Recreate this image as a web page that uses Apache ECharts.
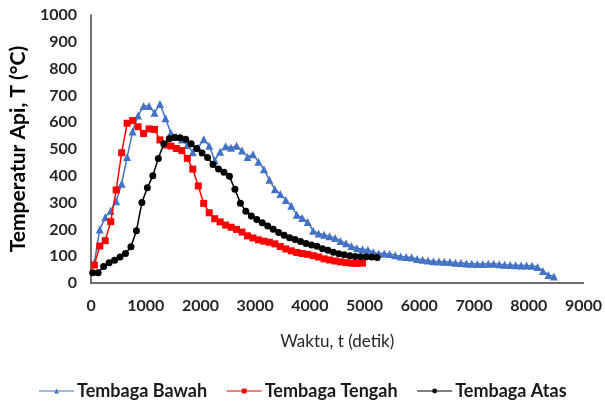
<!DOCTYPE html>
<html>
<head>
<meta charset="utf-8">
<script src="https://cdn.jsdelivr.net/npm/echarts@6/dist/echarts.min.js"></script>
<style>
html,body{margin:0;padding:0;background:#fff;}
#chart{width:605px;height:402px;}
</style>
</head>
<body>
<div id="chart"></div>
<script>
// Time (s) and temperature (°C)
const timeBawah = [60,160,260,360,460,560,660,760,860,960,1060,1160,1260,1360,1460,1560,1660,1760,1860,1960,2060,2160,2260,2360,2460,2560,2660,2760,2860,2960,3060,3160,3260,3360,3460,3560,3660,3760,3860,3960,4060,4160,4260,4360,4460,4560,4660,4760,4860,4960,5060,5160,5260,5360,5460,5560,5660,5760,5860,5960,6060,6160,6260,6360,6460,6560,6660,6760,6860,6960,7060,7160,7260,7360,7460,7560,7660,7760,7860,7960,8060,8160,8260,8360,8460];
const tempBawah = [76,200,245,270,305,370,470,565,625,660,660,635,668,615,560,545,535,515,488,505,536,512,458,490,510,505,512,494,470,480,452,424,385,350,332,310,288,255,243,228,195,185,180,174,168,157,148,138,130,126,124,115,110,110,108,104,99,97,95,90,87,84,81,80,79,78,76,75,73,72,71,71,72,72,70,68,67,66,65,65,64,60,45,30,24];

const timeTengah = [60,160,260,360,460,560,660,760,860,960,1060,1160,1260,1360,1460,1560,1660,1760,1860,1960,2060,2160,2260,2360,2460,2560,2660,2760,2860,2960,3060,3160,3260,3360,3460,3560,3660,3760,3860,3960,4060,4160,4260,4360,4460,4560,4660,4760,4860,4960];
const tempTengah = [67,138,158,229,347,486,596,606,583,558,575,573,534,515,511,502,494,465,425,362,297,262,240,228,216,208,200,190,176,168,161,156,152,146,136,127,120,114,110,107,102,97,90,86,82,79,76,74,73,74];

const timeAtas = [30,130,230,330,430,530,630,730,830,930,1030,1130,1230,1330,1430,1530,1630,1730,1830,1930,2030,2130,2230,2330,2430,2530,2630,2730,2830,2930,3030,3130,3230,3330,3430,3530,3630,3730,3830,3930,4030,4130,4230,4330,4430,4530,4630,4730,4830,4930,5030,5130,5230];
const tempAtas = [38,38,62,76,85,97,110,135,195,300,355,400,465,520,538,543,542,536,520,502,485,468,442,425,413,398,350,298,268,250,237,225,213,201,188,178,169,162,155,147,142,137,128,122,115,109,105,102,99,98,98,97,95];

const seriesNames = ['Tembaga Bawah','Tembaga Tengah','Tembaga Atas'];
const xTicks = {min:0, max:9000, interval:1000};
const yTicks = {min:0, max:1000, interval:100};

function pairs(t, v){ return t.map((x,i)=>[x, v[i]]); }

const chart = echarts.init(document.getElementById('chart'), null, {renderer:'canvas'});
const font = 'Lato, "Open Sans", sans-serif';
chart.setOption({
  animation:false,
  backgroundColor:'#fff',
  grid:{left:89, right:18, top:15, bottom:119, containLabel:false},
  legend:{
    top:377, left:'center',
    itemWidth:35, itemHeight:6, itemGap:19,
    lineStyle:{width:1.2},
    textStyle:{fontFamily:font, fontSize:18, fontWeight:'bold', color:'#1a1a1a', padding:[0,0,0,-2]},
    data:seriesNames
  },
  xAxis:{
    type:'value', min:xTicks.min, max:xTicks.max, interval:xTicks.interval,
    name:'Waktu, t (detik)', nameLocation:'middle', nameGap:50,
    nameTextStyle:{fontFamily:font, fontSize:17, color:'#262626'},
    axisLine:{show:true, lineStyle:{color:'#404040', width:1.5}},
    axisTick:{show:false},
    splitLine:{show:false},
    axisLabel:{fontFamily:font, fontSize:16, fontWeight:'bold', color:'#262626', margin:15,
      formatter:function(v){return String(v);}}
  },
  yAxis:{
    type:'value', min:yTicks.min, max:yTicks.max, interval:yTicks.interval,
    name:'Temperatur Api, T (°C)', nameLocation:'middle', nameGap:56,
    nameTextStyle:{fontFamily:font, fontSize:21, fontWeight:'bold', color:'#000'},
    axisLine:{show:true, lineStyle:{color:'#404040', width:1.5}},
    axisTick:{show:false},
    splitLine:{show:false},
    axisLabel:{fontFamily:font, fontSize:16, fontWeight:'bold', color:'#262626', margin:14,
      formatter:function(v){return String(v);}}
  },
  series:[
    {name:seriesNames[0], type:'line', data:pairs(timeBawah,tempBawah),
     symbol:'triangle', symbolSize:8, itemStyle:{color:'#4472C4'}, lineStyle:{color:'#4472C4', width:1.5}, z:2},
    {name:seriesNames[1], type:'line', data:pairs(timeTengah,tempTengah),
     symbol:'rect', symbolSize:7, itemStyle:{color:'#FF0000'}, lineStyle:{color:'#FF0000', width:1.5}, z:3},
    {name:seriesNames[2], type:'line', data:pairs(timeAtas,tempAtas),
     symbol:'circle', symbolSize:7, itemStyle:{color:'#000000'}, lineStyle:{color:'#000000', width:1.5}, z:4}
  ]
});
</script>
</body>
</html>
